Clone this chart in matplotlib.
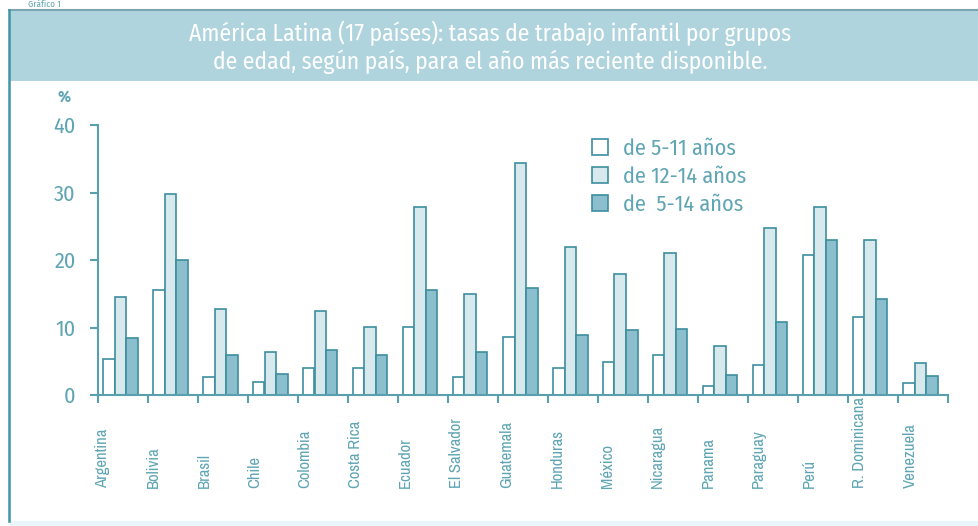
import numpy as np
import matplotlib
matplotlib.use("Agg")
import matplotlib.pyplot as plt
from matplotlib.patches import Patch, Rectangle

plt.rcParams['font.family'] = ['Fira Sans Condensed', 'DejaVu Sans']
plt.rcParams['font.weight'] = 'normal'

# data (%)
paises = ['Argentina', 'Bolivia', 'Brasil', 'Chile', 'Colombia', 'Costa Rica',
          'Ecuador', 'El Salvador', 'Guatemala', 'Honduras', 'México',
          'Nicaragua', 'Panama', 'Paraguay', 'Perú', 'R. Dominicana', 'Venezuela']
edad_5_11 = [5.4, 15.5, 2.6, 1.9, 4.0, 4.0, 10.1, 2.6, 8.6, 4.0, 4.9, 5.9, 1.4, 4.4, 20.8, 11.5, 1.8]
edad_12_14 = [14.5, 29.8, 12.8, 6.3, 12.4, 10.1, 27.9, 14.9, 34.3, 21.9, 18.0, 21.0, 7.2, 24.7, 27.8, 22.9, 4.8]
edad_5_14 = [8.5, 20.0, 5.9, 3.1, 6.6, 5.9, 15.5, 6.3, 15.9, 8.9, 9.6, 9.8, 3.0, 10.8, 22.9, 14.2, 2.8]
series_labels = ['de 5-11 años', 'de 12-14 años', 'de  5-14 años']
yticks = [0, 10, 20, 30, 40]

W, H = 979, 526
teal = '#3d8e9f'
axis_col = '#5a9fae'
text_col = '#5fa5b4'
header_col = '#b0d4de'
fills = ['#ffffff', '#d8e9ee', '#8cbfcd']
narrow = ['Archivo Narrow', 'DejaVu Sans']

fig = plt.figure(figsize=(W / 100, H / 100), dpi=100)

# frame: header band, left border, bottom strip
fig.patches.append(Rectangle((9 / W, 1 - 81 / H), 1 - 9 / W, 71 / H,
                             transform=fig.transFigure, facecolor=header_col,
                             edgecolor='none', zorder=0))
fig.add_artist(plt.Line2D([9 / W, 1], [1 - 10 / H, 1 - 10 / H], color='#7aa6b3', lw=1.5))
fig.add_artist(plt.Line2D([9 / W, 9 / W], [1 - 10 / H, 1 - 521 / H], color='#3f95a3', lw=1.8))
fig.patches.append(Rectangle((9 / W, 0), 1 - 9 / W, 5 / H, transform=fig.transFigure,
                             facecolor='#eaf6f9', edgecolor='none', zorder=0))

fig.text(28 / W, 1 - 4 / H, 'Gráfico 1', color=text_col, fontsize=6.5, va='center', ha='left')
fig.text(490 / W, 1 - 33 / H, 'América Latina (17 países): tasas de trabajo infantil por grupos',
         color='white', fontsize=17, ha='center', va='center')
fig.text(490 / W, 1 - 62 / H, 'de edad, según país, para el año más reciente disponible.',
         color='white', fontsize=17, ha='center', va='center')

ax = fig.add_axes([98 / W, 1 - 395 / H, 850 / W, 270 / H])
x = np.arange(len(paises))
bw = 0.23
for k, vals in enumerate([edad_5_11, edad_12_14, edad_5_14]):
    ax.bar(x + 0.1 + k * bw, vals, width=bw, align='edge', color=fills[k],
           edgecolor=teal, linewidth=1.2, label=series_labels[k], zorder=2)

ax.set_xlim(0, len(paises))
ax.set_ylim(0, 40)
for s in ['top', 'right']:
    ax.spines[s].set_visible(False)
for s in ['left', 'bottom']:
    ax.spines[s].set_color(axis_col)
    ax.spines[s].set_linewidth(1.5)

ax.set_yticks(yticks)
ax.set_yticklabels([str(t) for t in yticks])
ax.tick_params(axis='y', colors=axis_col, length=6, width=1.5, pad=10,
               labelsize=16, labelcolor=text_col)
ax.set_xticks(np.arange(len(paises) + 1))
ax.set_xticklabels([])
ax.tick_params(axis='x', colors=axis_col, length=6, width=1.5, direction='out')

for i, p in enumerate(paises):
    ax.text(i + 0.1 + 0.14 * i / 16, -13.8, p, rotation=90, ha='center', va='bottom',
            color=text_col, fontsize=12, family=narrow, fontweight='normal', clip_on=False)

fig.text(58 / W, 1 - 97 / H, '%', color=text_col, fontsize=12, fontweight='bold',
         ha='left', va='center')

handles = [Patch(facecolor=fills[k], edgecolor=teal, linewidth=1.2) for k in range(3)]
fig.legend(handles, series_labels, loc='upper left', bbox_to_anchor=(572 / W, 1 - 118 / H),
           frameon=False, fontsize=16, handlelength=0.7, handleheight=0.7,
           handletextpad=0.7, labelspacing=0.3, labelcolor=text_col)

fig.savefig('out.png', dpi=100)
